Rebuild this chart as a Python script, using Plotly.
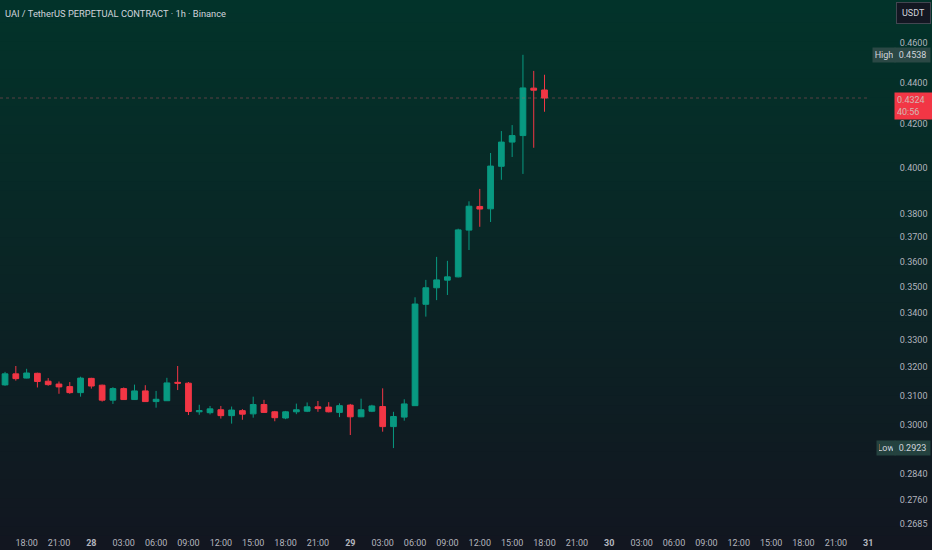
import math
import pandas as pd
import plotly.graph_objects as go

# hourly candles, UAI/USDT perp, 27th 16:00 -> 29th 18:00
start_time = "2025-07-27 16:00"
opens = [0.3137, 0.3176, 0.3161, 0.3178, 0.3150, 0.3140, 0.3131, 0.3110, 0.3160, 0.3136,
         0.3084, 0.3124, 0.3086, 0.3116, 0.3079, 0.3082, 0.3146, 0.3143, 0.3044, 0.3041,
         0.3051, 0.3031, 0.3048, 0.3037, 0.3069, 0.3044, 0.3023, 0.3044, 0.3046, 0.3061,
         0.3060, 0.3042, 0.3067, 0.3027, 0.3046, 0.3062, 0.2994, 0.3026, 0.3065, 0.3433,
         0.3497, 0.3527, 0.3540, 0.3730, 0.3830, 0.3820, 0.4006, 0.4116, 0.4146, 0.4372, 0.4363]
highs = [0.3183, 0.3204, 0.3194, 0.3180, 0.3161, 0.3149, 0.3147, 0.3166, 0.3162, 0.3138,
         0.3129, 0.3128, 0.3138, 0.3136, 0.3116, 0.3162, 0.3204, 0.3147, 0.3068, 0.3064,
         0.3064, 0.3062, 0.3053, 0.3096, 0.3085, 0.3047, 0.3047, 0.3072, 0.3076, 0.3081,
         0.3077, 0.3073, 0.3071, 0.3089, 0.3068, 0.3125, 0.3044, 0.3087, 0.3460, 0.3528,
         0.3620, 0.3604, 0.3736, 0.3852, 0.3906, 0.4066, 0.4167, 0.4195, 0.4538, 0.4457, 0.4438]
lows = [0.3134, 0.3152, 0.3160, 0.3128, 0.3134, 0.3106, 0.3106, 0.3096, 0.3124, 0.3079,
        0.3071, 0.3085, 0.3085, 0.3078, 0.3058, 0.3081, 0.3119, 0.3033, 0.3034, 0.3035,
        0.3021, 0.3004, 0.3017, 0.3024, 0.3041, 0.3012, 0.3019, 0.3036, 0.3043, 0.3044,
        0.3042, 0.3026, 0.2966, 0.3026, 0.3043, 0.2977, 0.2923, 0.3014, 0.3064, 0.3386,
        0.3449, 0.3469, 0.3538, 0.3648, 0.3744, 0.3764, 0.3946, 0.4048, 0.3972, 0.4090, 0.4258]
closes = [0.3176, 0.3159, 0.3179, 0.3149, 0.3138, 0.3130, 0.3110, 0.3161, 0.3133, 0.3084,
          0.3124, 0.3086, 0.3116, 0.3079, 0.3087, 0.3144, 0.3143, 0.3045, 0.3048, 0.3054,
          0.3031, 0.3050, 0.3036, 0.3069, 0.3042, 0.3024, 0.3044, 0.3051, 0.3061, 0.3055,
          0.3044, 0.3065, 0.3027, 0.3051, 0.3064, 0.2994, 0.3028, 0.3071, 0.3434, 0.3497,
          0.3528, 0.3540, 0.3731, 0.3831, 0.3819, 0.4007, 0.4116, 0.4146, 0.4373, 0.4362, 0.4324]

# price scale labels
price_ticks = [0.46, 0.44, 0.42, 0.40, 0.38, 0.37, 0.36, 0.35, 0.34, 0.33, 0.32, 0.31, 0.30,
               0.284, 0.276, 0.2685]
price_ticktext = ["0.4600", "0.4400", "0.4200", "0.4000", "0.3800", "0.3700", "0.3600", "0.3500",
                  "0.3400", "0.3300", "0.3200", "0.3100", "0.3000", "0.2840", "0.2760", "0.2685"]

# time scale labels (every 3h from 27th 18:00)
time_tick_start = "2025-07-27 18:00"
time_ticktext = ["18:00", "21:00", "28", "03:00", "06:00", "09:00", "12:00", "15:00", "18:00",
                 "21:00", "29", "03:00", "06:00", "09:00", "12:00", "15:00", "18:00", "21:00",
                 "30", "03:00", "06:00", "09:00", "12:00", "15:00", "18:00", "21:00", "31"]

title_text = "UAI / TetherUS PERPETUAL CONTRACT · 1h · Binance"
countdown = "40:56"

GREEN = "#089981"
RED = "#F23645"
TXT = "#b2b5be"
FONT = "Roboto"

times = pd.date_range(start_time, periods=len(opens), freq="h")
tickvals = pd.date_range(time_tick_start, periods=len(time_ticktext), freq="3h")
ticktext = ["<b>%s</b>" % t if ":" not in t else t for t in time_ticktext]

fig = go.Figure()
fig.add_trace(go.Candlestick(
    x=times, open=opens, high=highs, low=lows, close=closes,
    increasing=dict(line=dict(color=GREEN, width=1), fillcolor=GREEN),
    decreasing=dict(line=dict(color=RED, width=1), fillcolor=RED),
    whiskerwidth=0, showlegend=False, hoverinfo="skip"))

# gradient background (teal top -> navy bottom) made of thin bands
top_c = (2, 51, 42)
bot_c = (18, 22, 32)
nb = 60
shapes = []
y_lo, y_hi = -0.05, 1.01
for k in range(nb):
    t = k / (nb - 1)
    c = tuple(int(round(top_c[j] + (bot_c[j] - top_c[j]) * t)) for j in range(3))
    y1 = y_hi - (y_hi - y_lo) * k / nb
    y0 = y_hi - (y_hi - y_lo) * (k + 1) / nb
    shapes.append(dict(type="rect", xref="paper", yref="paper", x0=-0.02, x1=1.1,
                       y0=y0 - 0.002, y1=y1, fillcolor="rgb(%d,%d,%d)" % c,
                       line=dict(width=0), layer="below"))

# last price dotted line
shapes.append(dict(type="line", xref="paper", yref="y", x0=0, x1=1,
                   y0=closes[-1], y1=closes[-1],
                   line=dict(color="rgba(190,90,100,0.45)", width=1, dash="dot")))

hi = max(highs)
lo = min(lows)
lab_font = dict(family=FONT, size=9, color="#d1d4dc")
annotations = [
    dict(text=title_text, xref="paper", yref="paper", x=0, y=1, xanchor="left", yanchor="top",
         xshift=3, yshift=-6, showarrow=False, font=dict(family=FONT, size=9.3, color="#d1d4dc")),
    dict(text="USDT", xref="paper", yref="paper", x=1, y=1, xanchor="center", yanchor="middle",
         xshift=43, yshift=-13, showarrow=False, bgcolor="#131722", bordercolor="#434651",
         borderwidth=1, borderpad=5, font=dict(family=FONT, size=9, color="#d1d4dc")),
    dict(text="High", xref="paper", yref="y", x=1, y=math.log10(hi), xanchor="left",
         yanchor="middle", xshift=2, width=18, showarrow=False, bgcolor="#2b4845",
         borderpad=2, font=lab_font),
    dict(text="%.4f" % hi, xref="paper", yref="y", x=1, y=math.log10(hi), xanchor="left",
         yanchor="middle", xshift=24, width=31, showarrow=False, bgcolor="#2b4845",
         borderpad=2, font=lab_font),
    dict(text="Low", xref="paper", yref="y", x=1, y=math.log10(lo), xanchor="left",
         yanchor="middle", xshift=6, width=14, showarrow=False, bgcolor="#24423f",
         borderpad=2, font=lab_font),
    dict(text="%.4f" % lo, xref="paper", yref="y", x=1, y=math.log10(lo), xanchor="left",
         yanchor="middle", xshift=24, width=31, showarrow=False, bgcolor="#24423f",
         borderpad=2, font=lab_font),
    dict(text="%.4f<br>%s" % (closes[-1], countdown), xref="paper", yref="y", x=1,
         y=math.log10(closes[-1]), xanchor="left", yanchor="top", xshift=24, yshift=6,
         width=40, showarrow=False, bgcolor=RED, borderpad=2, align="left",
         font=dict(family=FONT, size=9, color="rgba(200,225,220,0.75)")),
]

fig.update_layout(
    width=932, height=550,
    margin=dict(l=0, r=62, t=0, b=22),
    paper_bgcolor="rgb(18,22,32)",
    plot_bgcolor="rgba(0,0,0,0)",
    boxgap=0.24,
    shapes=shapes,
    annotations=annotations,
    showlegend=False,
    hovermode=False,
    xaxis=dict(
        type="date", rangeslider=dict(visible=False),
        range=["2025-07-27 15:32", "2025-07-31 00:10"],
        tickmode="array", tickvals=tickvals, ticktext=ticktext,
        showgrid=False, zeroline=False, showline=False,
        ticks="outside", ticklen=6, tickcolor="rgba(0,0,0,0)",
        tickfont=dict(family=FONT, size=9, color=TXT),
    ),
    yaxis=dict(
        type="log", side="right",
        range=[math.log10(0.2673), math.log10(0.4825)],
        tickmode="array", tickvals=price_ticks, ticktext=price_ticktext,
        showgrid=False, zeroline=False, showline=False,
        ticks="outside", ticklen=27, tickcolor="rgba(0,0,0,0)",
        tickfont=dict(family=FONT, size=9, color=TXT),
    ),
)

# page body has an 8px default margin; drop it so the chart fills the window
fig.write_html("out.html", config={"displayModeBar": False},
               post_script="document.body.style.margin='0';document.body.style.background='rgb(18,22,32)';")
